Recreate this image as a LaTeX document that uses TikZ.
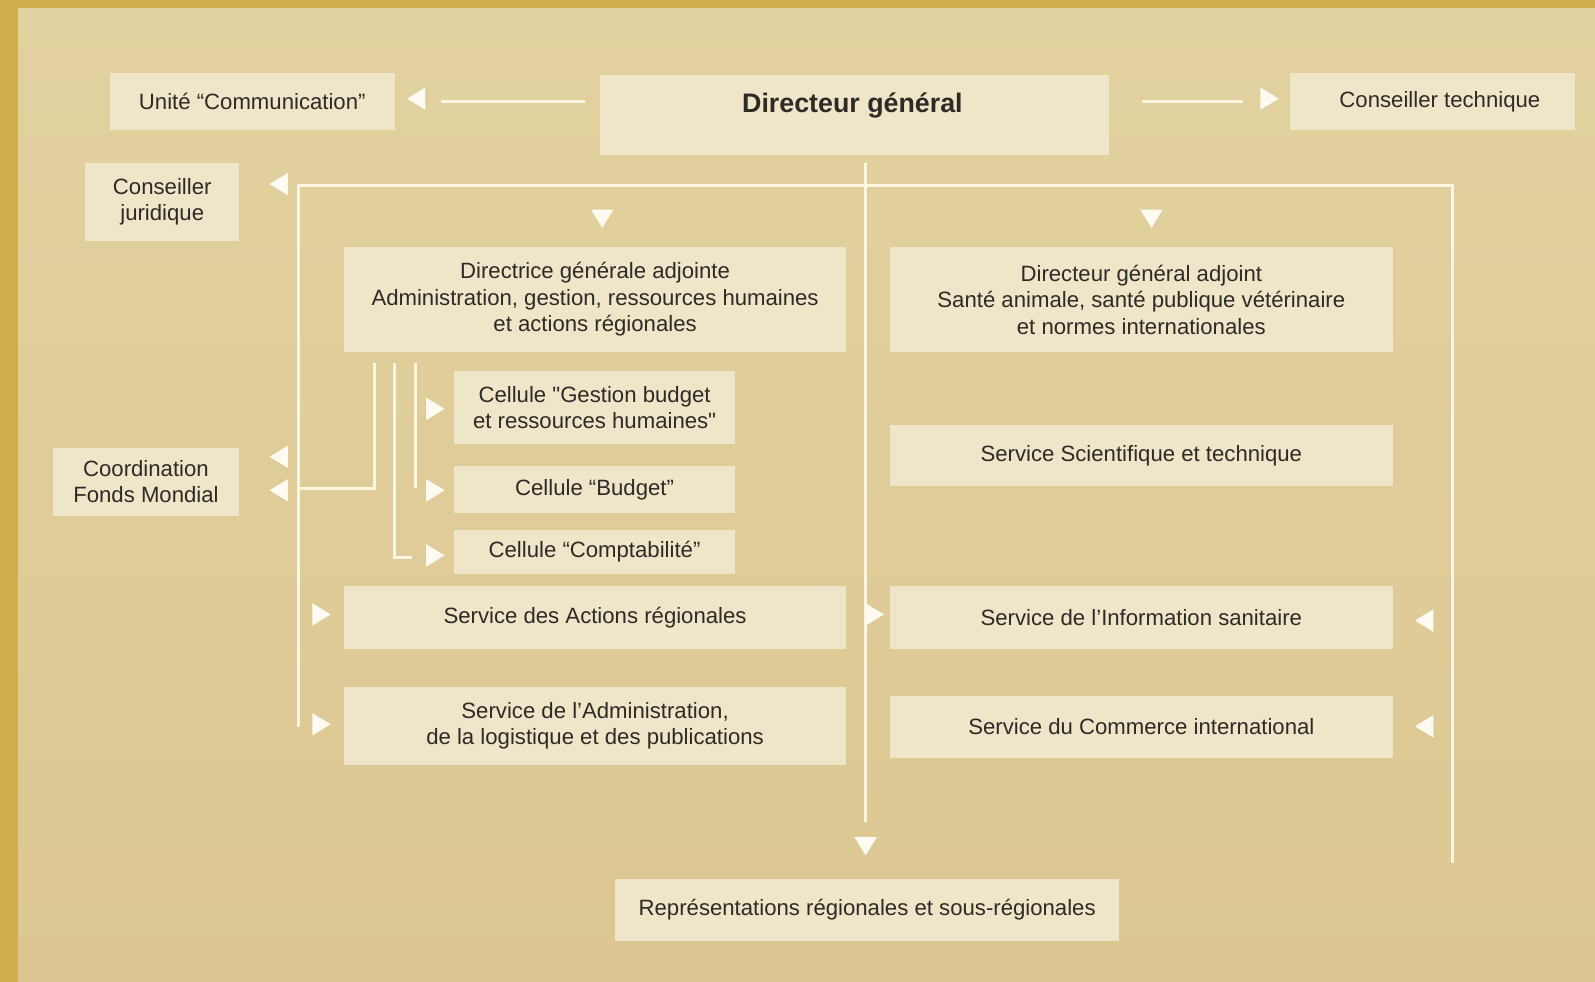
\documentclass[tikz,border=0pt]{standalone}
\usepackage{fontspec}
\setmainfont{Liberation Sans}
\definecolor{gold}{HTML}{D1AE4C}
\definecolor{bgA}{HTML}{E2D29F}
\definecolor{bgB}{HTML}{DCC792}
\definecolor{boxc}{HTML}{EFE5C9}
\definecolor{linec}{HTML}{FFF5E0}
\definecolor{tric}{HTML}{FFFBF3}
\definecolor{txt}{HTML}{2E2A25}
\tikzset{
  bx/.style 2 args={fill=boxc, inner sep=0pt, minimum width=#1*0.02cm, minimum height=#2*0.02cm,
     align=center, text=txt, font=\fontsize{12.4}{14.8}\selectfont},
  ln/.style={draw=linec, line width=1.7pt},
  pics/tl/.style={code={\fill[tric] (9,-11) -- (-9,0) -- (9,11) -- cycle;}},
  pics/tr/.style={code={\fill[tric] (-9,-11) -- (9,0) -- (-9,11) -- cycle;}},
  pics/td/.style={code={\fill[tric] (-11,-9) -- (0,9) -- (11,-9) -- cycle;}},
}
\begin{document}
\begin{tikzpicture}[x=0.02cm, y=-0.02cm]
\useasboundingbox (0,0) rectangle (1568,965);
% background
\shade[top color=bgA, bottom color=bgB] (0,0) rectangle (1568,965);
\fill[gold] (0,0) rectangle (18,965);
\fill[gold] (0,0) rectangle (1568,8);

% boxes
\node[bx={280}{56}] (unite) at (248,100) {Unité “Communication”};
\node[bx={500}{78}] (dg) at (840,113) {};
\node[text=txt, font=\bfseries\fontsize{15}{18}\selectfont] (dgt) at (838,104) {Directeur général};
\node[bx={280}{56}] (ct) at (1408,100) {\hspace*{0.3cm}Conseiller technique};
\node[bx={151}{77}] (cj) at (159.5,198.5) {Conseiller\\juridique};
\node[bx={494}{103}] (dga1) at (585,294.5) {Directrice générale adjointe\\Administration, gestion, ressources humaines\\et actions régionales};
\node[bx={494}{103}] (dga2) at (1122,294.5) {Directeur général adjoint\\Santé animale, santé publique vétérinaire\\et normes internationales};
\node[bx={183}{67}] (cfm) at (143.5,473.5) {Coordination\\Fonds Mondial};
\node[bx={277}{71}] (cg) at (584.5,400.5) {Cellule \textquotedbl Gestion budget\\et ressources humaines\textquotedbl};
\node[bx={277}{46}] (cb) at (584.5,481) {Cellule “Budget”};
\node[bx={277}{43}] (cc) at (584.5,542.5) {Cellule “Comptabilité”};
\node[bx={494}{60}] (sst) at (1122,448) {Service Scientifique et technique};
\node[bx={494}{62}] (sar) at (585,607) {Service des Actions régionales};
\node[bx={494}{62}] (sis) at (1122,607) {Service de l’Information sanitaire};
\node[bx={494}{77}] (sal) at (585,713.5) {Service de l’Administration,\\de la logistique et des publications};
\node[bx={494}{61}] (sci) at (1122,714.5) {Service du Commerce international};
\node[bx={495}{61}] (rep) at (852.5,894.5) {Représentations régionales et sous-régionales};

% connector coordinates
\coordinate (tl) at (293,182);
\coordinate (tr) at (1428,182);
\coordinate (lb) at (293,715);
\coordinate (rb) at (1428,848);
\coordinate (cv) at (851,808);

% lines
\draw[ln] ([xshift=-0.3cm]dg.west |- unite.east) -- ([xshift=0.9cm]unite.east);
\draw[ln] ([xshift=0.64cm]dg.east |- ct.west) -- ([xshift=-0.92cm]ct.west);
\draw[ln] ([yshift=-0.16cm]dg.south -| cv) -- (cv);
\draw[ln] (lb) -- (tl) -- (tr) -- (rb);
\draw[ln] (293,480) -- (368,480) -- (368,357);
\draw[ln] (388,357) -- (388,548) -- (405,548);
\draw[ln] (408,357) -- (408,480);

% arrowheads
\pic at (409,97) {tl};
\pic at (1248,97) {tr};
\pic at (274,181) {tl};
\pic at (592,215) {td};
\pic at (1132,215) {td};
\pic at (274,449) {tl};
\pic at (274,482) {tl};
\pic at (428,402) {tr};
\pic at (428,482) {tr};
\pic at (428,546) {tr};
\pic at (316,604) {tr};
\pic at (316,712) {tr};
\pic at (860,604) {tr};
\pic at (1400,610) {tl};
\pic at (1400,714) {tl};
\pic at (851,832) {td};
\end{tikzpicture}
\end{document}
